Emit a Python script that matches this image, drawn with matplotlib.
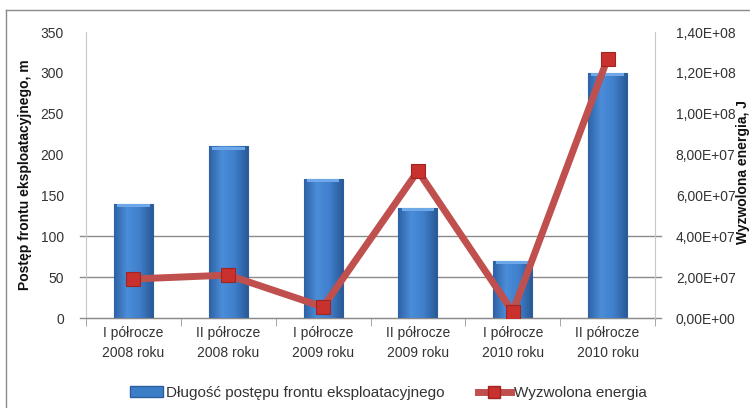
import matplotlib
matplotlib.use("Agg")
import matplotlib.pyplot as plt
import numpy as np
from matplotlib.lines import Line2D
from matplotlib.colors import LinearSegmentedColormap
from matplotlib.patches import Patch

categories = ["I półrocze\n2008 roku", "II półrocze\n2008 roku", "I półrocze\n2009 roku",
              "II półrocze\n2009 roku", "I półrocze\n2010 roku", "II półrocze\n2010 roku"]
dlugosc = [140, 210, 170, 135, 70, 300]
energia = [1.91e7, 2.1e7, 5.4e6, 7.2e7, 3.0e6, 1.27e8]
left_ticks = [0, 50, 100, 150, 200, 250, 300, 350]
right_ticks = [0, 2e7, 4e7, 6e7, 8e7, 1e8, 1.2e8, 1.4e8]
grid_vals = [50, 100]

plt.rcParams['font.family'] = ['Liberation Sans', 'DejaVu Sans']
fig = plt.figure(figsize=(7.5, 4.08), dpi=100)
ax = fig.add_axes([86/750, 1-318/408, (655-86)/750, (318-32)/408])
x = np.arange(len(categories))

bars = ax.bar(x, dlugosc, width=0.41, color='#3C7DC8', edgecolor='#2B5E9C', linewidth=0.8, zorder=2)
cmap = LinearSegmentedColormap.from_list('b', ['#2E62A6', '#4B8DD8', '#3F7FCB', '#2A5A98'])
grad = np.linspace(0, 1, 64).reshape(1, -1)
for b in bars:
    x0, w, h = b.get_x(), b.get_width(), b.get_height()
    im = ax.imshow(grad, cmap=cmap, extent=[x0, x0+w, 0, h], aspect='auto', zorder=2.1)
    im.set_clip_path(b)
    ax.add_patch(plt.Rectangle((x0+w*0.08, h-4), w*0.84, 3.5, color='#6FA8E8', zorder=2.2, lw=0))

ax.set_xlim(-0.5, len(categories)-0.5)
ax.set_ylim(0, 350)
ax.set_yticks(left_ticks)
ax.set_yticklabels([str(v) for v in left_ticks], fontsize=10, color='#333333')
ax.tick_params(axis='y', length=0, pad=16)
ax.set_xticks(x)
ax.set_xticklabels(categories, fontsize=10, color='#333333', linespacing=1.5)
ax.set_xticks(np.arange(-0.5, len(categories)), minor=True)
ax.tick_params(axis='x', which='major', length=0, pad=6)
ax.tick_params(axis='x', which='minor', length=6, color='#999999', direction='out')
ax.spines['top'].set_visible(False)
ax.spines['left'].set_color('#c8c8c8')
ax.spines['right'].set_visible(False)
ax.spines['bottom'].set_color('#8a8a8a')
ax.set_xlim(-0.5, len(categories)-0.5)
ax.set_ylim(0, 350)

tr = ax.get_yaxis_transform()
for g in grid_vals + [0]:
    ax.add_line(Line2D([-0.0105, 1.0105], [g, g], transform=tr, color='#8a8a8a', lw=1, clip_on=False, zorder=1))

ax.set_ylabel("Postęp frontu eksploatacyjnego, m", fontsize=10, fontweight='bold', color='#111111', labelpad=6)

ax2 = ax.twinx()
ax2.plot(x, energia, color='#C0504D', lw=5, marker='s', markersize=10,
         markerfacecolor='#C8312E', markeredgecolor='#A02522', markeredgewidth=0.8, zorder=3,
         solid_joinstyle='miter')
ax2.set_ylim(0, 1.4e8)
ax2.set_yticks(right_ticks)
ax2.set_yticklabels([f"{v:.2E}".replace('.', ',') for v in right_ticks], fontsize=10, color='#333333')
ax2.tick_params(axis='y', length=0, pad=15)
for s in ['top', 'left', 'bottom']:
    ax2.spines[s].set_visible(False)
ax2.spines['right'].set_color('#c8c8c8')
ax2.set_xlim(-0.5, len(categories)-0.5)

fig.text(743/750, 1-172/408, "Wyzwolona energia, J", rotation=90, fontsize=10, fontweight='bold',
         ha='center', va='center', color='#111111')

# chart border
fig.add_artist(Line2D([6/750, 6/750], [0, 1-10/408], color='#8a8a8a', lw=1))
fig.add_artist(Line2D([6/750, 1], [1-10/408, 1-10/408], color='#8a8a8a', lw=1))

# legend
h1 = Patch(facecolor='#3C7DC8', edgecolor='#2B5E9C')
h2 = Line2D([], [], color='#C0504D', lw=5, marker='s', markersize=9,
            markerfacecolor='#C8312E', markeredgecolor='#A02522')
fig.legend([h1, h2], ["Długość postępu frontu eksploatacyjnego", "Wyzwolona energia"],
           loc='center', bbox_to_anchor=(388/750, 1-393/408), ncol=2, frameon=False,
           fontsize=11, handlelength=2.2, handletextpad=0.15, columnspacing=2.2,
           labelcolor='#333333')

fig.savefig("out.png", dpi=100)
